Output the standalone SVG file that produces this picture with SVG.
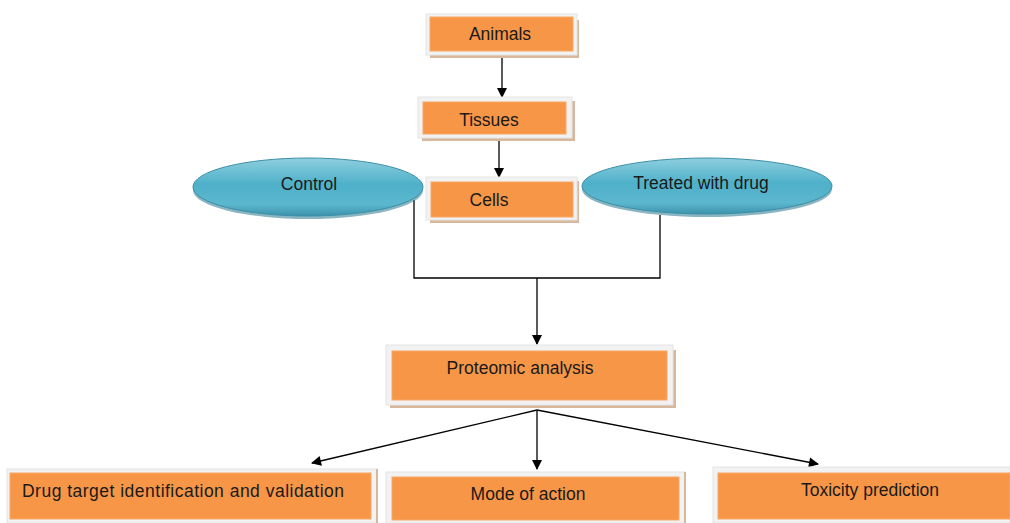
<svg xmlns="http://www.w3.org/2000/svg" width="1010" height="523" viewBox="0 0 1010 523">
<style>
.frame{fill:#F2F2F2;stroke:#E4E4E4;stroke-width:1}
.shadow{fill:#D8B89C}
.box{fill:#F79646;stroke:#F9A866;stroke-width:1}
.lbl{font-family:"Liberation Sans",Arial,sans-serif;font-size:17.5px;fill:#1a1a1a}
.ell{fill:url(#teal);stroke:#3C8FA6;stroke-width:1}
.con{fill:none;stroke:#000;stroke-width:1.3}
</style>
<defs>
<linearGradient id="teal" x1="0" y1="0" x2="0" y2="1">
<stop offset="0" stop-color="#8ECFDF"/>
<stop offset="0.45" stop-color="#4FB0C9"/>
<stop offset="0.8" stop-color="#5BB7CE"/>
<stop offset="1" stop-color="#3C93AB"/>
</linearGradient>
<marker id="arr" viewBox="0 0 10 10" refX="9" refY="5" markerWidth="11" markerHeight="10" markerUnits="userSpaceOnUse" orient="auto">
<path d="M0,0 L10,5 L0,10 z" fill="#000"/>
</marker>
</defs>
<rect width="1010" height="523" fill="#fff"/>

<g id="connectors">
<line class="con" x1="502" y1="51" x2="502" y2="97" marker-end="url(#arr)"/>
<line class="con" x1="499" y1="136" x2="499" y2="177" marker-end="url(#arr)"/>
<polyline class="con" points="414,200 414,278 660,278 660,215"/>
<line class="con" x1="537" y1="278" x2="537" y2="344" marker-end="url(#arr)"/>
<line class="con" x1="537" y1="410" x2="312" y2="463" marker-end="url(#arr)"/>
<line class="con" x1="537" y1="410" x2="537" y2="469" marker-end="url(#arr)"/>
<line class="con" x1="537" y1="410" x2="818" y2="464" marker-end="url(#arr)"/>
</g>

<g id="animals">
<rect class="shadow" x="430" y="20" width="149" height="38"/>
<rect class="frame" x="426" y="14" width="151" height="41"/>
<rect class="box" x="430" y="17" width="143" height="34"/>
<text class="lbl" x="500" y="40" text-anchor="middle">Animals</text>
</g>

<g id="tissues">
<rect class="shadow" x="422" y="101" width="153" height="40"/>
<rect class="frame" x="418" y="97" width="154" height="41"/>
<rect class="box" x="423" y="102" width="143" height="32"/>
<text class="lbl" x="489" y="126" text-anchor="middle">Tissues</text>
</g>

<g id="cells">
<rect class="shadow" x="430" y="181" width="149" height="42"/>
<rect class="frame" x="426" y="177" width="151" height="43"/>
<rect class="box" x="431" y="182" width="142" height="35"/>
<text class="lbl" x="489" y="206" text-anchor="middle">Cells</text>
</g>

<g id="control">
<ellipse cx="308" cy="190" rx="115" ry="29" fill="#3A8299" opacity="0.6"/>
<ellipse class="ell" cx="308" cy="187" rx="115" ry="29"/>
<text class="lbl" x="309" y="190" text-anchor="middle">Control</text>
</g>

<g id="treated">
<ellipse cx="707" cy="189" rx="125" ry="28" fill="#3A8299" opacity="0.6"/>
<ellipse class="ell" cx="707" cy="186" rx="125" ry="28"/>
<text class="lbl" x="701" y="189" text-anchor="middle">Treated with drug</text>
</g>

<g id="proteomic">
<rect class="shadow" x="390" y="350" width="286" height="58"/>
<rect class="frame" x="386" y="345" width="287" height="60"/>
<rect class="box" x="392" y="351" width="275" height="49"/>
<text class="lbl" x="520" y="374" text-anchor="middle">Proteomic analysis</text>
</g>

<g id="drug-target">
<rect class="frame" x="7" y="469" width="370" height="54"/>
<rect x="376" y="469" width="2" height="54" fill="#D8B89C"/>
<rect class="box" x="10" y="473" width="361" height="46"/>
<text class="lbl" x="22" y="497" textLength="322" lengthAdjust="spacing">Drug target identification and validation</text>
</g>

<g id="mode-of-action">
<rect class="frame" x="386" y="472" width="299" height="51"/>
<rect x="684" y="472" width="2" height="51" fill="#D8B89C"/>
<rect class="box" x="392" y="477" width="287" height="43"/>
<text class="lbl" x="528" y="500" text-anchor="middle">Mode of action</text>
</g>

<g id="toxicity">
<rect class="frame" x="713" y="467" width="297" height="56"/>
<rect class="box" x="718" y="473" width="292" height="46"/>
<text class="lbl" x="870" y="496" text-anchor="middle">Toxicity prediction</text>
</g>
</svg>
